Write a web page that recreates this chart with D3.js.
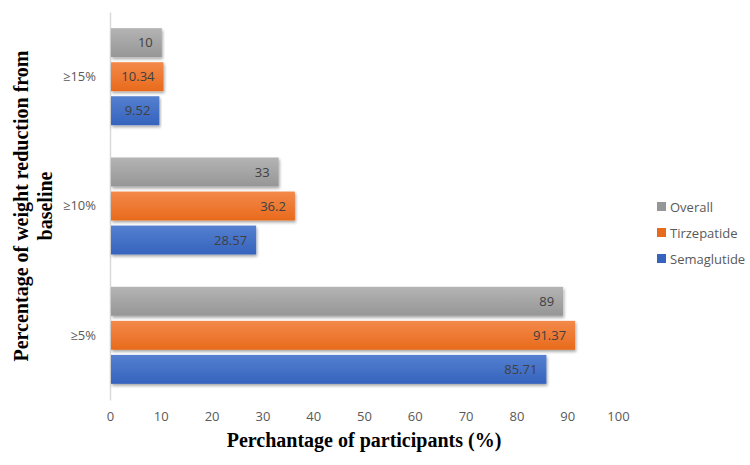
<!DOCTYPE html>
<html>
<head>
<meta charset="utf-8">
<script src="https://cdn.jsdelivr.net/npm/d3@7"></script>
<style>
  body { margin: 0; background: #fff; }
  svg { display: block; }
</style>
</head>
<body>
<svg id="chart"></svg>
<script>
// data
const categories = ["≥15%", "≥10%", "≥5%"];
const seriesNames = ["Overall", "Tirzepatide", "Semaglutide"];
const overall = [10, 33, 89];
const tirzepatide = [10.34, 36.2, 91.37];
const semaglutide = [9.52, 28.57, 85.71];
const xTicks = [0, 10, 20, 30, 40, 50, 60, 70, 80, 90, 100];

const colors = {
    Overall: ["#b4b4b4", "#969696"],
    Tirzepatide: ["#f3894a", "#e86a1c"],
    Semaglutide: ["#5580d0", "#3563bd"]
};

const width = 750, height = 465;
const margin = { top: 12, right: 132, bottom: 65, left: 110 };

const svg = d3.select("#chart")
    .attr("width", width)
    .attr("height", height);

const defs = svg.append("defs");
seriesNames.forEach(name => {
    const grad = defs.append("linearGradient")
        .attr("id", "grad-" + name)
        .attr("x1", 0).attr("y1", 0).attr("x2", 0).attr("y2", 1);
    grad.append("stop").attr("offset", "0%").attr("stop-color", colors[name][0]);
    grad.append("stop").attr("offset", "100%").attr("stop-color", colors[name][1]);
});
const shadow = defs.append("filter").attr("id", "shadow")
    .attr("x", "-5%").attr("y", "-20%").attr("width", "110%").attr("height", "160%");
shadow.append("feDropShadow")
    .attr("dx", 1).attr("dy", 2).attr("stdDeviation", 1.5)
    .attr("flood-color", "#000").attr("flood-opacity", 0.35);

const x = d3.scaleLinear()
    .domain([0, 100])
    .range([margin.left, 618]);

const y = d3.scaleBand()
    .domain(categories)
    .range([margin.top, height - margin.bottom])
    .paddingInner(0.25)
    .paddingOuter(0.125);

const ySub = d3.scaleBand()
    .domain(seriesNames)
    .range([0, y.bandwidth()])
    .paddingInner(0.15);

const rows = categories.map((c, i) => ({
    category: c,
    values: [
        { name: "Overall", value: overall[i] },
        { name: "Tirzepatide", value: tirzepatide[i] },
        { name: "Semaglutide", value: semaglutide[i] }
    ]
}));

// x axis (labels only)
const xAxis = svg.append("g")
    .attr("transform", `translate(0, ${height - margin.bottom})`)
    .call(d3.axisBottom(x).tickValues(xTicks).tickSize(0).tickPadding(12));
xAxis.select(".domain").remove();
xAxis.selectAll("text")
    .attr("font-family", "Open Sans, Liberation Sans, sans-serif")
    .attr("font-size", 13)
    .attr("fill", "#595959");

// y axis
const yAxis = svg.append("g")
    .attr("transform", `translate(${margin.left}, 0)`)
    .call(d3.axisLeft(y).tickSize(0).tickPadding(14));
yAxis.select(".domain").attr("stroke", "#d9d9d9").attr("stroke-width", 1.5);
yAxis.selectAll("text")
    .attr("font-family", "Open Sans, Liberation Sans, sans-serif")
    .attr("font-size", 13)
    .attr("fill", "#595959");

// bars
const groups = svg.append("g").selectAll("g")
    .data(rows)
    .join("g")
    .attr("transform", d => `translate(0, ${y(d.category)})`);

groups.selectAll("rect")
    .data(d => d.values)
    .join("rect")
    .attr("x", x(0) + 1)
    .attr("y", d => ySub(d.name))
    .attr("width", d => x(d.value) - x(0))
    .attr("height", ySub.bandwidth())
    .attr("fill", d => `url(#grad-${d.name})`)
    .attr("filter", "url(#shadow)");

groups.selectAll("text.val")
    .data(d => d.values)
    .join("text")
    .attr("class", "val")
    .attr("x", d => x(d.value) - 8)
    .attr("y", d => ySub(d.name) + ySub.bandwidth() / 2)
    .attr("dy", "0.35em")
    .attr("text-anchor", "end")
    .attr("font-family", "Open Sans, Liberation Sans, sans-serif")
    .attr("font-size", 13)
    .attr("fill", "#404040")
    .text(d => d.value);

// axis titles
svg.append("text")
    .attr("x", (x(0) + x(100)) / 2)
    .attr("y", 447)
    .attr("text-anchor", "middle")
    .attr("font-family", "Liberation Serif, Times New Roman, serif")
    .attr("font-weight", "bold")
    .attr("font-size", 20)
    .attr("fill", "#000")
    .text("Perchantage of participants (%)");

const yTitle = svg.append("text")
    .attr("transform", `translate(28, ${(margin.top + height - margin.bottom) / 2}) rotate(-90)`)
    .attr("text-anchor", "middle")
    .attr("font-family", "Liberation Serif, Times New Roman, serif")
    .attr("font-weight", "bold")
    .attr("font-size", 20)
    .attr("fill", "#000");
yTitle.append("tspan").attr("x", 0).attr("dy", 0).text("Percentage of weight reduction from");
yTitle.append("tspan").attr("x", 0).attr("dy", 24).text("baseline");

// legend
const legend = svg.append("g")
    .selectAll("g")
    .data(seriesNames)
    .join("g")
    .attr("transform", (d, i) => `translate(657, ${207 + i * 26})`);
legend.append("rect")
    .attr("x", 0).attr("y", -5)
    .attr("width", 9).attr("height", 9)
    .attr("fill", d => colors[d][1]);
legend.append("text")
    .attr("x", 13)
    .attr("y", 0)
    .attr("dy", "0.35em")
    .attr("font-family", "Open Sans, Liberation Sans, sans-serif")
    .attr("font-size", 13)
    .attr("fill", "#595959")
    .text(d => d);
</script>
</body>
</html>
